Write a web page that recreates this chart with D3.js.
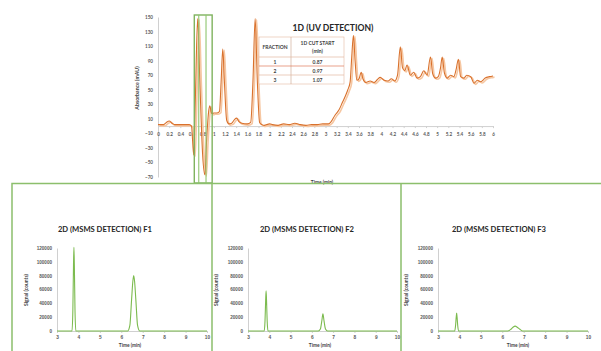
<!DOCTYPE html>
<html><head><meta charset="utf-8">
<script src="https://cdn.jsdelivr.net/npm/d3@7"></script>
<style>
html,body{margin:0;padding:0;background:#fff;}
svg{display:block;font-family:Lato,"Open Sans",sans-serif;}
</style></head>
<body><svg id="c" width="601" height="351"></svg>
<script>
// ---------- DATA ----------
const uvTime = [0.00,0.10,0.15,0.20,0.25,0.30,0.40,0.50,0.56,0.60,0.64,0.67,0.71,0.75,0.80,0.84,0.87,0.91,0.93,0.95,0.97,1.00,1.05,1.10,1.13,1.16,1.19,1.23,1.27,1.32,1.37,1.41,1.45,1.50,1.60,1.66,1.70,1.74,1.78,1.82,1.86,1.90,2.00,2.05,2.15,2.25,2.35,2.45,2.55,2.65,2.75,2.85,2.95,3.05,3.10,3.17,3.24,3.30,3.36,3.40,3.44,3.47,3.50,3.53,3.56,3.60,3.64,3.67,3.72,3.80,3.87,3.93,3.98,4.05,4.12,4.18,4.24,4.29,4.34,4.38,4.42,4.46,4.52,4.58,4.64,4.70,4.76,4.82,4.88,4.92,4.97,5.02,5.06,5.09,5.13,5.18,5.24,5.30,5.34,5.38,5.42,5.48,5.53,5.60,5.66,5.72,5.78,5.86,5.94,6.00];
const uvAbs = [2,2,5,7,4,2,2,2,2,0,-40,40,148,60,-40,-67,-20,22,28,20,17,18,18,20,60,106,60,8,3,4,9,11,6,4,3,5,60,148,60,5,2,1,3,2,1,3,2,4,2,1,2,2,3,3,6,15,22,32,42,50,60,95,125,90,63,65,74,65,60,62,60,64,67,63,62,65,62,70,109,80,76,84,70,74,66,68,76,70,95,72,66,68,80,95,73,66,70,68,78,92,68,66,70,68,59,63,61,66,68,69];
const uvYTicks = [-70,-50,-30,-10,10,30,50,70,90,110,130,150];
const uvXTicks = [0,0.2,0.4,0.6,0.8,1,1.2,1.4,1.6,1.8,2,2.2,2.4,2.6,2.8,3,3.2,3.4,3.6,3.8,4,4.2,4.4,4.6,4.8,5,5.2,5.4,5.6,5.8,6];
const cutWindow = [0.65, 0.97];
const cutLines = [0.73, 0.86];
const tableHeader = ["FRACTION", "1D CUT START", "(min)"];
const tableFractions = ["1", "2", "3"];
const tableStarts = ["0.87", "0.97", "1.07"];

const msTitles = ["2D (MSMS DETECTION) F1", "2D (MSMS DETECTION) F2", "2D (MSMS DETECTION) F3"];
const f1Time = [3,3.70,3.74,3.77,3.79,3.81,3.84,3.88,6.30,6.40,6.48,6.54,6.58,6.62,6.68,6.76,6.86,10];
const f1Signal = [0,0,30000,95000,121000,95000,30000,0,0,8000,45000,72000,80000,72000,45000,8000,0,0];
const f2Time = [3,3.76,3.80,3.83,3.85,3.87,3.90,3.94,6.30,6.40,6.47,6.52,6.57,6.64,6.74,10];
const f2Signal = [0,0,15000,45000,58000,45000,15000,0,0,3000,15000,25000,15000,3000,0,0];
const f3Time = [3,3.78,3.82,3.85,3.87,3.89,3.92,3.96,6.25,6.40,6.50,6.60,6.70,6.82,6.95,10];
const f3Signal = [0,0,8000,20000,26000,20000,8000,0,0,2500,5500,7000,5500,2500,0,0];
const msYTicks = [0,20000,40000,60000,80000,100000,120000];
const msXTicks = [3,4,5,6,7,8,9,10];

// ---------- DRAW ----------
const svg = d3.select("#c");
svg.append("rect").attr("width",601).attr("height",351).attr("fill","#fff");

const textCol = "#404040";
const axisCol = "#d0d0d0";
const green = "#8cbf6c";

// Top chart
const xT = d3.scaleLinear().domain([0,6]).range([158,493]);
const yT = d3.scaleLinear().domain([-70,150]).range([177,17]);

// vertical axis
const gy = svg.append("g").attr("transform","translate(158,0)")
  .call(d3.axisLeft(yT).tickValues(uvYTicks).tickSize(0).tickPadding(5));
gy.select(".domain").attr("stroke",axisCol);
gy.selectAll("text").attr("font-size",4.6).attr("font-weight","bold").attr("fill","#595959").attr("font-family","Lato");

const gx = svg.append("g").attr("transform",`translate(0,${yT(0)})`)
  .call(d3.axisBottom(xT).tickValues(uvXTicks).tickSize(2).tickFormat(d=>String(+d.toFixed(1))).tickPadding(5));
gx.select(".domain").attr("stroke",axisCol);
gx.selectAll("line").attr("stroke",axisCol);
gx.selectAll("text").attr("font-size",4.6).attr("font-weight","bold").attr("fill","#595959").attr("font-family","Lato");

svg.append("text").attr("transform","translate(139,88) rotate(-90)").attr("text-anchor","middle")
  .attr("font-size",5.2).attr("font-weight","bold").attr("fill",textCol).text("Absorbance (mAU)");
svg.append("text").attr("x",322).attr("y",184).attr("text-anchor","middle")
  .attr("font-size",4.8).attr("font-weight","bold").attr("fill",textCol).text("Time (min)");

const uvData = uvTime.map((t,i)=>[t,uvAbs[i]]);
const lineT = d3.line().x(d=>xT(d[0])).y(d=>yT(d[1])).curve(d3.curveMonotoneX);
svg.append("path").datum(uvData).attr("d",lineT).attr("fill","none")
  .attr("stroke","#f6c7a2").attr("stroke-width",1.6).attr("transform","translate(1.5,1.2)");
svg.append("path").datum(uvData).attr("d",lineT).attr("fill","none")
  .attr("stroke","#d9712c").attr("stroke-width",1.1);

// title
svg.append("text").attr("x",333).attr("y",31).attr("text-anchor","middle")
  .attr("font-size",8.6).attr("font-weight","bold").attr("fill","#262626").text("1D (UV DETECTION)");

// table
const tb = svg.append("g");
const tx0 = 259, tx1 = 291, tx2 = 344, ty0 = 37, ty1 = 57, rowH = 9;
tb.append("rect").attr("x",tx0).attr("y",ty0).attr("width",tx2-tx0).attr("height",ty1-ty0+rowH*3).attr("fill","#fff").attr("stroke","#e3b8a0").attr("stroke-width",0.6);
tb.append("line").attr("x1",tx1).attr("x2",tx1).attr("y1",ty0).attr("y2",ty1+rowH*3).attr("stroke","#c9a38c").attr("stroke-width",0.6);
for (let i=0;i<3;i++){
  tb.append("line").attr("x1",tx0).attr("x2",tx2).attr("y1",ty1+rowH*i).attr("y2",ty1+rowH*i)
    .attr("stroke", i===1 ? "#e07a5a" : "#e3b8a0").attr("stroke-width",0.7);
}
tb.append("text").attr("x",(tx0+tx1)/2).attr("y",49).attr("text-anchor","middle").attr("font-size",5).attr("font-weight","bold").attr("fill",textCol).text(tableHeader[0]);
tb.append("text").attr("x",(tx1+tx2)/2).attr("y",45).attr("text-anchor","middle").attr("font-size",5).attr("font-weight","bold").attr("fill",textCol).text(tableHeader[1]);
tb.append("text").attr("x",(tx1+tx2)/2).attr("y",53).attr("text-anchor","middle").attr("font-size",5).attr("font-weight","bold").attr("fill",textCol).text(tableHeader[2]);
tableFractions.forEach((f,i)=>{
  const yy = ty1 + rowH*i + 6.5;
  tb.append("text").attr("x",(tx0+tx1)/2).attr("y",yy).attr("text-anchor","middle").attr("font-size",5).attr("font-weight","bold").attr("fill",textCol).text(f);
  tb.append("text").attr("x",(tx1+tx2)/2).attr("y",yy).attr("text-anchor","middle").attr("font-size",5).attr("font-weight","bold").attr("fill",textCol).text(tableStarts[i]);
});

// cut window box
svg.append("rect").attr("x",xT(cutWindow[0])).attr("y",15).attr("width",xT(cutWindow[1])-xT(cutWindow[0])).attr("height",168)
  .attr("fill","none").attr("stroke","#7fb35e").attr("stroke-width",1.4);
cutLines.forEach(c=>svg.append("line").attr("x1",xT(c)).attr("x2",xT(c)).attr("y1",15).attr("y2",183)
  .attr("stroke","#8fc56e").attr("stroke-width",1.1));

// panel frame
svg.append("path").attr("d","M12,351 V183.5 H601 M212,183.5 V351 M401,183.5 V351")
  .attr("fill","none").attr("stroke",green).attr("stroke-width",1.5);

// MS panels
const panels = [
  {x0:57,x1:207,title:msTitles[0],tx:105,t:f1Time,v:f1Signal,ylab:28,xlab:130},
  {x0:248,x1:397,title:msTitles[1],tx:307,t:f2Time,v:f2Signal,ylab:218,xlab:320},
  {x0:438,x1:588,title:msTitles[2],tx:499,t:f3Time,v:f3Signal,ylab:408,xlab:518}
];
panels.forEach(p=>{
  const x = d3.scaleLinear().domain([3,10]).range([p.x0,p.x1]);
  const y = d3.scaleLinear().domain([0,120000]).range([331,248]);
  const g = svg.append("g");
  const ay = g.append("g").attr("transform",`translate(${p.x0},0)`)
    .call(d3.axisLeft(y).tickValues(msYTicks).tickSize(0).tickPadding(5).tickFormat(d3.format("d")));
  ay.select(".domain").attr("stroke",axisCol);
  ay.selectAll("text").attr("font-size",4.6).attr("font-weight","bold").attr("fill","#595959");
  const ax = g.append("g").attr("transform","translate(0,331)")
    .call(d3.axisBottom(x).tickValues(msXTicks).tickSize(2).tickPadding(3).tickFormat(d3.format("d")));
  ax.select(".domain").attr("stroke",axisCol);
  ax.selectAll("line").attr("stroke",axisCol);
  ax.selectAll("text").attr("font-size",4.8).attr("font-weight","bold").attr("fill","#595959");
  g.append("text").attr("x",p.tx).attr("y",232).attr("text-anchor","middle")
    .attr("font-size",7.6).attr("font-weight","bold").attr("fill","#262626").text(p.title);
  g.append("text").attr("transform",`translate(${p.ylab},290) rotate(-90)`).attr("text-anchor","middle")
    .attr("font-size",5).attr("font-weight","bold").attr("fill",textCol).text("Signal (counts)");
  g.append("text").attr("x",p.xlab).attr("y",347).attr("text-anchor","middle")
    .attr("font-size",4.8).attr("font-weight","bold").attr("fill",textCol).text("Time (min)");
  const data = p.t.map((t,i)=>[t,p.v[i]]);
  g.append("path").datum(data).attr("fill","none").attr("stroke","#7cbb4f").attr("stroke-width",1.1)
    .attr("d", d3.line().x(d=>x(d[0])).y(d=>y(d[1])).curve(d3.curveMonotoneX));
});
</script></body></html>
